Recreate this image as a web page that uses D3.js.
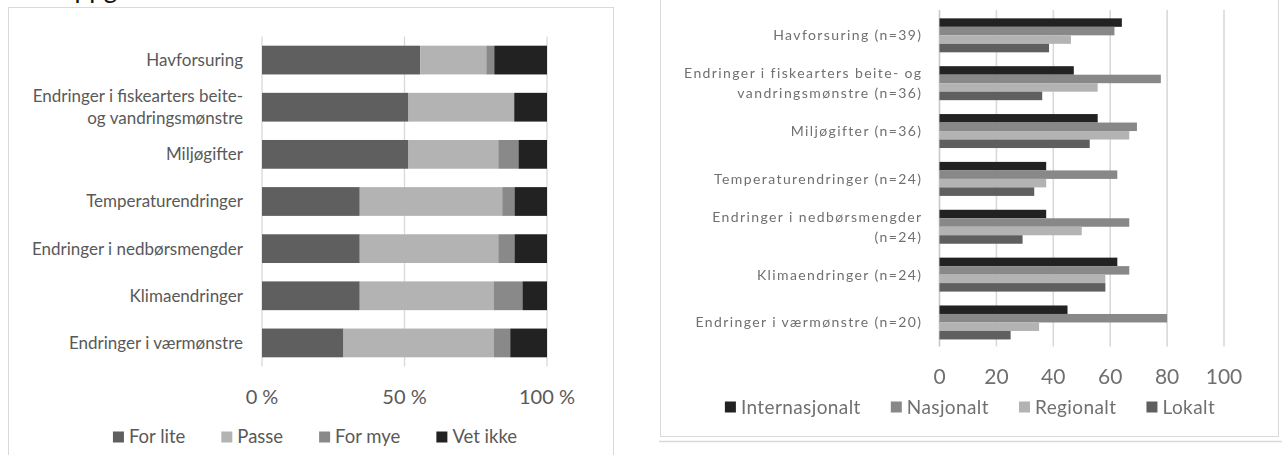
<!DOCTYPE html>
<html lang="no">
<head>
<meta charset="utf-8">
<title>Havforsuring og klima</title>
<script src="https://d3js.org/d3.v7.min.js"></script>
<style>
  body { margin: 0; background: #fff; }
  svg { display: block; }
  text { font-family: Lato, "Open Sans", sans-serif; }
</style>
</head>
<body>
<script>
// venstre figur: andel svar (prosent)
var kategorierV = ["Havforsuring", "Endringer i fiskearters beite-\nog vandringsmønstre", "Miljøgifter",
  "Temperaturendringer", "Endringer i nedbørsmengder", "Klimaendringer", "Endringer i værmønstre"];
var forLite = [55.5, 51.4, 51.4, 34.3, 34.3, 34.3, 28.6];
var passe   = [23.2, 37.1, 31.5, 50.0, 48.6, 47.1, 52.8];
var forMye  = [2.8, 0.0, 7.1, 4.3, 5.7, 10.0, 5.7];
var vetIkke = [18.5, 11.5, 10.0, 11.4, 11.4, 8.6, 12.9];
var serierV = ["For lite", "Passe", "For mye", "Vet ikke"];
var tickV = [0, 50, 100];

// høyre figur
var kategorierH = ["Havforsuring (n=39)", "Endringer i fiskearters beite- og\nvandringsmønstre (n=36)", "Miljøgifter (n=36)",
  "Temperaturendringer (n=24)", "Endringer i nedbørsmengder\n(n=24)", "Klimaendringer (n=24)", "Endringer i værmønstre (n=20)"];
var internasjonalt = [64.1, 47.2, 55.6, 37.5, 37.5, 62.5, 45.0];
var nasjonalt      = [61.5, 77.8, 69.4, 62.5, 66.7, 66.7, 80.0];
var regionalt      = [46.2, 55.6, 66.7, 37.5, 50.0, 58.3, 35.0];
var lokalt         = [38.5, 36.1, 52.8, 33.3, 29.2, 58.3, 25.0];
var serierH = ["Internasjonalt", "Nasjonalt", "Regionalt", "Lokalt"];
var tickH = [0, 20, 40, 60, 80, 100];

var svg = d3.select("body").append("svg").attr("width", 1282).attr("height", 455);

// overskrift som er kuttet i toppen
svg.append("text").attr("x", 54).attr("y", -2).attr("font-size", 26).attr("fill", "#111").text("Oppgave");

// ---------- venstre ----------
var fargerV = d3.scaleOrdinal().domain(serierV).range(["#5f5f5f", "#b3b3b3", "#898989", "#222222"]);
svg.append("rect").attr("x", 8.5).attr("y", 7.5).attr("width", 605).attr("height", 470)
  .attr("fill", "none").attr("stroke", "#d9d9d9");

var xV = d3.scaleLinear().domain([0, 100]).range([262, 547]);
var yV = d3.scaleBand().domain(kategorierV).range([36.5, 366.5]).paddingInner(0.39).paddingOuter(0.195);

var gV = svg.append("g");
gV.selectAll("line.grid").data(tickV).enter().append("line")
  .attr("x1", d => xV(d)).attr("x2", d => xV(d)).attr("y1", 36.5).attr("y2", 366.5)
  .attr("stroke", "#d9d9d9").attr("stroke-width", 1.3);

var radV = kategorierV.map(function (k, i) {
  return { kat: k, "For lite": forLite[i], "Passe": passe[i], "For mye": forMye[i], "Vet ikke": vetIkke[i] };
});
var stabel = d3.stack().keys(serierV)(radV);
gV.selectAll("g.serie").data(stabel).enter().append("g")
  .attr("fill", d => fargerV(d.key))
  .selectAll("rect").data(d => d).enter().append("rect")
  .attr("x", d => xV(d[0])).attr("width", d => xV(d[1]) - xV(d[0]))
  .attr("y", d => yV(d.data.kat)).attr("height", yV.bandwidth());

function leggTilEtikett(g, kat, x, yMidt, linjeH) {
  var linjer = kat.split("\n");
  var t = g.append("text").attr("x", x).attr("text-anchor", "end");
  linjer.forEach(function (l, j) {
    t.append("tspan").attr("x", x)
      .attr("y", yMidt + (j - (linjer.length - 1) / 2) * linjeH)
      .attr("dy", "0.35em").text(l);
  });
  return t;
}
kategorierV.forEach(function (k) {
  leggTilEtikett(gV, k, 243, yV(k) + yV.bandwidth() / 2, 21.5)
    .attr("font-size", 17).attr("fill", "#595959");
});

gV.selectAll("text.tick").data(tickV).enter().append("text")
  .attr("x", d => xV(d)).attr("y", 397).attr("dy", "0.35em").attr("text-anchor", "middle")
  .attr("font-size", 20).attr("fill", "#595959").text(d => d + " %");

function tegnForklaring(g, serier, farger, midt, y, fs, sw, avstand, fyll, ls) {
  var lg = g.append("g");
  var x = 0;
  serier.forEach(function (s) {
    lg.append("rect").attr("x", x).attr("y", y - sw / 2).attr("width", sw).attr("height", sw).attr("fill", farger(s));
    var t = lg.append("text").attr("x", x + sw + 5).attr("y", y).attr("dy", "0.35em")
      .attr("font-size", fs).attr("letter-spacing", ls).attr("fill", fyll).text(s);
    x += sw + 5 + t.node().getComputedTextLength() + avstand;
  });
  var bredde = x - avstand;
  lg.attr("transform", "translate(" + (midt - bredde / 2) + ",0)");
  return lg;
}
tegnForklaring(gV, serierV, fargerV, 315, 437, 18.5, 11, 36, "#595959", 0);

// ---------- høyre ----------
var defs = svg.append("defs");
defs.append("filter").attr("id", "uskarp").append("feGaussianBlur").attr("stdDeviation", 0.55);

svg.append("rect").attr("x", 660.5).attr("y", -10).attr("width", 618).attr("height", 446.5)
  .attr("fill", "none").attr("stroke", "#d9d9d9");
svg.append("line").attr("x1", 659).attr("x2", 1282).attr("y1", 441.5).attr("y2", 441.5)
  .attr("stroke", "#d9d9d9").attr("stroke-width", 1.5);

var fargerH = d3.scaleOrdinal().domain(serierH).range(["#232323", "#888888", "#b3b3b3", "#5f5f5f"]);
var xH = d3.scaleLinear().domain([0, 100]).range([939.5, 1224]);
var yH = d3.scaleBand().domain(kategorierH).range([11.4, 346.4]).paddingInner(0.29).paddingOuter(0.145);
var yS = d3.scaleBand().domain(serierH).range([0, yH.bandwidth()]);

var gH = svg.append("g").attr("filter", "url(#uskarp)");
gH.selectAll("line.grid").data(tickH).enter().append("line")
  .attr("x1", d => xH(d)).attr("x2", d => xH(d)).attr("y1", 10).attr("y2", 346.5)
  .attr("stroke", d => d === 0 ? "#c8c8c8" : "#d9d9d9").attr("stroke-width", 1.6);

var verdierH = { "Internasjonalt": internasjonalt, "Nasjonalt": nasjonalt, "Regionalt": regionalt, "Lokalt": lokalt };
serierH.forEach(function (s) {
  gH.append("g").attr("fill", fargerH(s))
    .selectAll("rect").data(verdierH[s]).enter().append("rect")
    .attr("x", xH(0)).attr("width", d => xH(d) - xH(0))
    .attr("y", (d, i) => yH(kategorierH[i]) + yS(s)).attr("height", yS.bandwidth());
});

kategorierH.forEach(function (k) {
  leggTilEtikett(gH, k, 922.5, yH(k) + yH.bandwidth() / 2, 20)
    .attr("font-size", 14).attr("letter-spacing", 1.4).attr("fill", "#707070");
});

gH.selectAll("text.tick").data(tickH).enter().append("text")
  .attr("x", d => xH(d)).attr("y", 377).attr("dy", "0.35em").attr("text-anchor", "middle")
  .attr("font-size", 21).attr("fill", "#707070").text(d => d);

tegnForklaring(gH, serierH, fargerH, 970, 407, 19, 11, 30, "#707070", 0.4);
</script>
</body>
</html>
